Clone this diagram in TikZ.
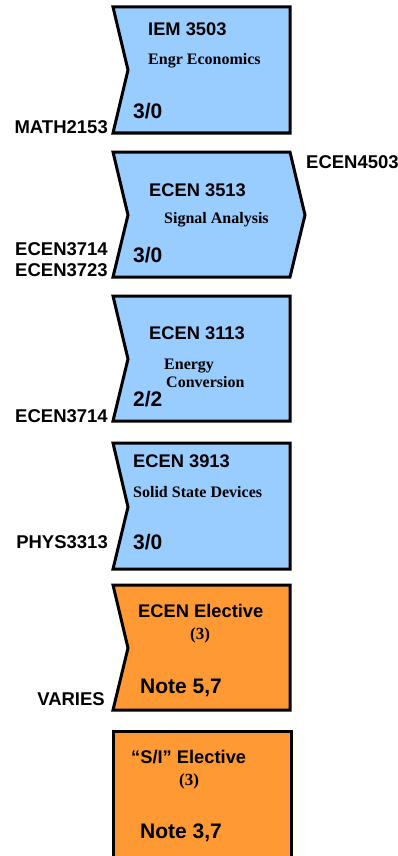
\documentclass[tikz,border=0pt]{standalone}
\usepackage{fontspec}
\setmainfont{Liberation Sans}
\newfontfamily\serifbf{Liberation Serif}
\definecolor{boxblue}{RGB}{153,204,255}
\definecolor{boxorange}{RGB}{255,153,51}
\begin{document}
\begin{tikzpicture}[x=1pt,y=-1pt,
  shapeline/.style={draw=black,line width=3pt,line join=miter},
  title/.style={font=\fontsize{18.3}{20}\selectfont\bfseries,inner sep=0pt,anchor=base west},
  sub/.style={font=\serifbf\fontsize{16}{18}\selectfont\bfseries,inner sep=0pt,anchor=base west},
  paren/.style={font=\serifbf\fontsize{17}{19}\selectfont\bfseries,inner sep=0pt,anchor=base west},
  credit/.style={font=\fontsize{21}{24}\selectfont\bfseries,inner sep=0pt,anchor=base west},
  prereq/.style={font=\fontsize{18.5}{20}\selectfont\bfseries,inner sep=0pt,anchor=base east},
  after/.style={font=\fontsize{18.5}{20}\selectfont\bfseries,inner sep=0pt,anchor=base west}]
\useasboundingbox (0,0) rectangle (398,856);
\begin{scope}
\clip (0,0) rectangle (398,856);
% Box 1
\filldraw[shapeline,fill=boxblue] (113,7) -- (290,7) -- (290,133) -- (113,133) -- (128,70) -- cycle;
% Box 2
\filldraw[shapeline,fill=boxblue] (113,152) -- (290,152) -- (305,215) -- (290,277) -- (113,277) -- (128,215) -- cycle;
% Box 3
\filldraw[shapeline,fill=boxblue] (113,296) -- (290,296) -- (290,421) -- (113,421) -- (128,359) -- cycle;
% Box 4
\filldraw[shapeline,fill=boxblue] (113,443) -- (290,443) -- (290,569) -- (113,569) -- (128,507) -- cycle;
% Box 5
\filldraw[shapeline,fill=boxorange] (113,585) -- (290,585) -- (290,710) -- (113,710) -- (128,648) -- cycle;
% Box 6
\filldraw[shapeline,fill=boxorange] (113,731) -- (291,731) -- (291,880) -- (113,880) -- cycle;
\end{scope}

% Box 1 texts
\node[title] (t1) at (148,36) {IEM 3503};
\node[sub] (s1) at (148,65) {Engr Economics};
\node[credit] (c1) at (133,118) {3/0};
\node[prereq] (p1) at (108,133) {MATH2153};

% Box 2 texts
\node[after] (a2) at (306,168) {ECEN4503};
\node[title] (t2) at (149,196) {ECEN 3513};
\node[sub] (s2) at (164,223) {Signal Analysis};
\node[credit] (c2) at (133,262) {3/0};
\node[prereq] (p2a) at (108,255) {ECEN3714};
\node[prereq] (p2b) at (108,276) {ECEN3723};

% Box 3 texts
\node[title] (t3) at (149,339) {ECEN 3113};
\node[sub] (s3a) at (164,369) {Energy};
\node[sub] (s3b) at (166,387) {Conversion};
\node[credit] (c3) at (133,406) {2/2};
\node[prereq] (p3) at (108,422) {ECEN3714};

% Box 4 texts
\node[title] (t4) at (133,467) {ECEN 3913};
\node[sub] (s4) at (133,497) {Solid State Devices};
\node[credit] (c4) at (133,549) {3/0};
\node[prereq] (p4) at (108,548) {PHYS3313};

% Box 5 texts
\node[title] (t5) at (138,617) {ECEN Elective};
\node[paren] (s5) at (190,639) {(3)};
\node[credit] (c5) at (140,693) {Note 5,7};
\node[prereq] (p5) at (105,705) {VARIES};

% Box 6 texts
\node[title] (t6) at (131,763) {“S/I” Elective};
\node[paren] (s6) at (179,785) {(3)};
\node[credit] (c6) at (140,838) {Note 3,7};
\end{tikzpicture}
\end{document}
